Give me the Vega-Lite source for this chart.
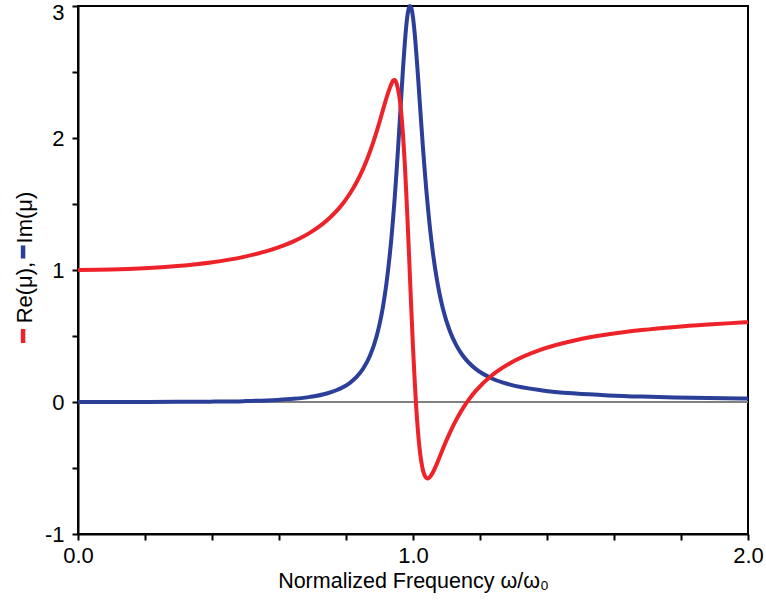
{
  "$schema": "https://vega.github.io/schema/vega-lite/v6.json",
  "width": 670,
  "height": 528,
  "autosize": {"type": "none"},
  "padding": {"left": 78, "top": 6, "right": 18, "bottom": 78},
  "config": {
    "view": {"stroke": "black", "strokeWidth": 2},
    "font": "Liberation Sans",
    "axis": {
      "grid": false,
      "domainColor": "black",
      "domainWidth": 2,
      "tickColor": "black",
      "tickWidth": 2,
      "tickSize": 6,
      "labelColor": "black",
      "labelFontSize": 22,
      "labelFont": "Liberation Sans",
      "titleFont": "Liberation Sans",
      "titleFontSize": 22,
      "titleFontWeight": "normal",
      "titleColor": "black",
      "labelFlush": false,
      "labelOverlap": false
    }
  },
  "datasets": {
    "mu": [
      {"w": 0.0, "re": 1.0, "im": 0.0},
      {"w": 0.099, "re": 1.003, "im": 0.0000},
      {"w": 0.198, "re": 1.0125, "im": 0.0003},
      {"w": 0.297, "re": 1.030, "im": 0.001},
      {"w": 0.396, "re": 1.057, "im": 0.0027},
      {"w": 0.495, "re": 1.0996, "im": 0.0066},
      {"w": 0.594, "re": 1.167, "im": 0.0157},
      {"w": 0.6435, "re": 1.2168, "im": 0.0244},
      {"w": 0.693, "re": 1.283, "im": 0.0388},
      {"w": 0.7425, "re": 1.3747, "im": 0.0642},
      {"w": 0.792, "re": 1.508, "im": 0.113},
      {"w": 0.8118, "re": 1.5795, "im": 0.145},
      {"w": 0.8316, "re": 1.665, "im": 0.1897},
      {"w": 0.8514, "re": 1.768, "im": 0.2537},
      {"w": 0.8712, "re": 1.894, "im": 0.3486},
      {"w": 0.891, "re": 2.045, "im": 0.4948},
      {"w": 0.9009, "re": 2.129, "im": 0.5976},
      {"w": 0.9108, "re": 2.217, "im": 0.7287},
      {"w": 0.9207, "re": 2.303, "im": 0.897},
      {"w": 0.9306, "re": 2.378, "im": 1.1131},
      {"w": 0.9356, "re": 2.41, "im": 1.2426},
      {"w": 0.9405, "re": 2.435, "im": 1.388},
      {"w": 0.9455, "re": 2.44, "im": 1.5498},
      {"w": 0.9504, "re": 2.418, "im": 1.7277},
      {"w": 0.9554, "re": 2.368, "im": 1.9199},
      {"w": 0.9603, "re": 2.293, "im": 2.1222},
      {"w": 0.9653, "re": 2.179, "im": 2.328},
      {"w": 0.9702, "re": 2.021, "im": 2.5274},
      {"w": 0.9752, "re": 1.8185, "im": 2.7075},
      {"w": 0.9801, "re": 1.574, "im": 2.8547},
      {"w": 0.9851, "re": 1.296, "im": 2.9553},
      {"w": 0.99, "re": 1.0, "im": 3.0},
      {"w": 0.995, "re": 0.702, "im": 2.9853},
      {"w": 0.9999, "re": 0.42, "im": 2.9146},
      {"w": 1.0049, "re": 0.167, "im": 2.7969},
      {"w": 1.0098, "re": -0.048, "im": 2.645},
      {"w": 1.0148, "re": -0.221, "im": 2.472},
      {"w": 1.0197, "re": -0.354, "im": 2.2896},
      {"w": 1.0247, "re": -0.45, "im": 2.1071},
      {"w": 1.0296, "re": -0.515, "im": 1.9311},
      {"w": 1.0346, "re": -0.555, "im": 1.7657},
      {"w": 1.0395, "re": -0.575, "im": 1.613},
      {"w": 1.0445, "re": -0.579, "im": 1.4736},
      {"w": 1.0494, "re": -0.571, "im": 1.3477},
      {"w": 1.0593, "re": -0.534, "im": 1.1327},
      {"w": 1.0692, "re": -0.48, "im": 0.9603},
      {"w": 1.0791, "re": -0.419, "im": 0.822},
      {"w": 1.089, "re": -0.356, "im": 0.7105},
      {"w": 1.1088, "re": -0.239, "im": 0.5455},
      {"w": 1.1286, "re": -0.137, "im": 0.4325},
      {"w": 1.1484, "re": -0.05, "im": 0.3523},
      {"w": 1.1682, "re": 0.024, "im": 0.2936},
      {"w": 1.188, "re": 0.086, "im": 0.2492},
      {"w": 1.2375, "re": 0.206, "im": 0.1765},
      {"w": 1.287, "re": 0.29, "im": 0.1337},
      {"w": 1.386, "re": 0.4, "im": 0.0875},
      {"w": 1.485, "re": 0.468, "im": 0.0639},
      {"w": 1.584, "re": 0.513, "im": 0.05},
      {"w": 1.683, "re": 0.545, "im": 0.0409},
      {"w": 1.782, "re": 0.569, "im": 0.0346},
      {"w": 1.881, "re": 0.587, "im": 0.03},
      {"w": 1.98, "re": 0.602, "im": 0.0265},
      {"w": 2.0, "re": 0.605, "im": 0.026}
    ]
  },
  "layer": [
    {
      "data": {"values": [{}]},
      "mark": {"type": "rule", "color": "#808080", "strokeWidth": 2},
      "encoding": {"y": {"datum": 0, "type": "quantitative"}}
    },
    {
      "data": {"name": "mu"},
      "mark": {"type": "line", "color": "#2B3F99", "strokeWidth": 4, "interpolate": "monotone"},
      "encoding": {
        "x": {
          "field": "w",
          "type": "quantitative",
          "scale": {"domain": [0, 2], "nice": false, "zero": false},
          "axis": {
            "title": "Normalized Frequency ω/ω₀",
            "values": [0, 0.1, 0.2, 0.3, 0.4, 0.5, 0.6, 0.7, 0.8, 0.9, 1.0, 1.1, 1.2, 1.3, 1.4, 1.5, 1.6, 1.7, 1.8, 1.9, 2.0],
            "labelExpr": "round(datum.value * 10) % 5 == 0 ? format(datum.value, '.1f') : ''",
            "labelPadding": 5,
            "titleFontSize": 21.5,
            "titleBaseline": "middle",
            "titleY": 47
          }
        },
        "y": {
          "field": "im",
          "type": "quantitative",
          "scale": {"domain": [-1, 3], "nice": false, "zero": false},
          "axis": {
            "title": "Re(μ),\u00a0\u00a0\u00a0Im(μ)",
            "values": [-1, -0.5, 0, 0.5, 1, 1.5, 2, 2.5, 3],
            "labelExpr": "datum.value % 1 == 0 ? (datum.value < 0 ? '-' + abs(datum.value) : '' + datum.value) : ''",
            "labelPadding": 8,
            "labelOffset": {"condition": {"test": "datum.value == 3", "value": 6}, "value": 0},
            "titleAngle": 270,
            "titleX": -54,
            "titleY": 251,
            "titleBaseline": "middle",
            "titleAlign": "center"
          }
        }
      }
    },
    {
      "data": {"name": "mu"},
      "mark": {"type": "line", "color": "#EE2229", "strokeWidth": 4, "interpolate": "monotone"},
      "encoding": {
        "x": {"field": "w", "type": "quantitative"},
        "y": {"field": "re", "type": "quantitative"}
      }
    },
    {
      "data": {"values": [{}]},
      "mark": {"type": "rule", "color": "#EE2229", "strokeWidth": 4.5, "clip": false},
      "encoding": {
        "x": {"datum": -0.164, "type": "quantitative"},
        "y": {"datum": 0.447, "type": "quantitative"},
        "y2": {"datum": 0.553}
      }
    },
    {
      "data": {"values": [{}]},
      "mark": {"type": "rule", "color": "#2B3F99", "strokeWidth": 4.5, "clip": false},
      "encoding": {
        "x": {"datum": -0.164, "type": "quantitative"},
        "y": {"datum": 1.087, "type": "quantitative"},
        "y2": {"datum": 1.186}
      }
    }
  ]
}
